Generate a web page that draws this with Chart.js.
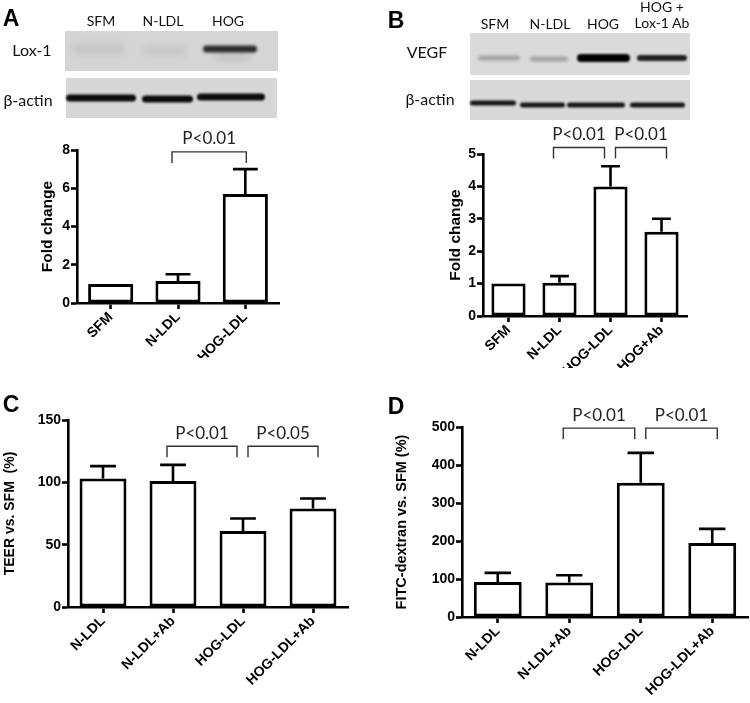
<!DOCTYPE html>
<html>
<head>
<meta charset="utf-8">
<script src="https://cdn.jsdelivr.net/npm/chart.js@4.4.1/dist/chart.umd.min.js"></script>
<style>
  body { margin: 0; background: #fff; }
  #wrap { position: relative; width: 750px; height: 703px; overflow: hidden; background: #fff; }
  canvas { position: absolute; }
  .t { position: absolute; transform: translate(-50%, -50%); white-space: nowrap;
       font-family: Lato, 'Liberation Sans', sans-serif; color: #111; line-height: 1; z-index: 3; }
  .big { font-family: 'Liberation Sans', Arial, sans-serif; font-weight: bold; font-size: 23px; color: #000; }
</style>
</head>
<body>
<div id="wrap">
  <canvas id="blots" width="750" height="703" style="left:0;top:0"></canvas>
  <canvas id="chartA" width="300" height="240" style="left:0;top:118px"></canvas>
  <canvas id="chartB" width="375" height="250" style="left:375px;top:118px"></canvas>
  <canvas id="chartC" width="375" height="325" style="left:0;top:378px"></canvas>
  <canvas id="chartD" width="375" height="325" style="left:375px;top:378px"></canvas>

  <div class="t big" style="left:11px;top:18px">A</div>
  <div class="t big" style="left:396px;top:20px">B</div>
  <div class="t big" style="left:11px;top:404px">C</div>
  <div class="t big" style="left:396px;top:406px">D</div>

  <div class="t" style="left:101px;top:21px;font-size:14px">SFM</div>
  <div class="t" style="left:163px;top:21px;font-size:14px">N-LDL</div>
  <div class="t" style="left:228px;top:21px;font-size:14px">HOG</div>
  <div class="t" style="left:32px;top:50px;font-size:16px">Lox-1</div>
  <div class="t" style="left:28px;top:100px;font-size:16px">β-actin</div>

  <div class="t" style="left:495px;top:24px;font-size:14px">SFM</div>
  <div class="t" style="left:550px;top:24px;font-size:14px">N-LDL</div>
  <div class="t" style="left:603px;top:24px;font-size:14px">HOG</div>
  <div class="t" style="left:662px;top:7px;font-size:14px">HOG +</div>
  <div class="t" style="left:662px;top:23px;font-size:14px">Lox-1 Ab</div>
  <div class="t" style="left:427px;top:52px;font-size:16px">VEGF</div>
  <div class="t" style="left:430px;top:99px;font-size:16px">β-actin</div>
</div>

<script>
// ---- data ----
const labelsA = ['SFM', 'N-LDL', 'HOG-LDL'];
const meanA = [1, 1.15, 5.7];
const errA = [0, 0.35, 1.3];
const ticksA = [0, 8, 2];

const labelsB = ['SFM', 'N-LDL', 'HOG-LDL', 'HOG+Ab'];
const meanB = [1, 1.03, 4.0, 2.6];
const errB = [0, 0.2, 0.62, 0.4];
const ticksB = [0, 5, 1];

const labelsC = ['N-LDL', 'N-LDL+Ab', 'HOG-LDL', 'HOG-LDL+Ab'];
const meanC = [103, 101, 61, 79];
const errC = [10, 13, 10, 8];
const ticksC = [0, 150, 50];

const labelsD = ['N-LDL', 'N-LDL+Ab', 'HOG-LDL', 'HOG-LDL+Ab'];
const meanD = [92, 91, 353, 195];
const errD = [24, 19, 79, 37];
const ticksD = [0, 500, 100];

// significance brackets: [from, to, level, text, side]
const bracketsA = [[1, 2, 7.9, 'P<0.01', 0]];
const bracketsB = [[1, 2, 5.2, 'P<0.01', -1], [2, 3, 5.2, 'P<0.01', 1]];
const bracketsC = [[1, 2, 129, 'P<0.01', -1], [2, 3, 129, 'P<0.05', 1]];
const bracketsD = [[1, 2, 497, 'P<0.01', -1], [2, 3, 497, 'P<0.01', 1]];

// ---- western blot pictures (decoration) ----
function band(ctx, x1, x2, y, h, alpha, blur) {
  ctx.save();
  ctx.filter = 'blur(' + blur + 'px)';
  ctx.fillStyle = 'rgba(0,0,0,' + alpha + ')';
  ctx.beginPath();
  ctx.roundRect(x1, y - h / 2, x2 - x1, h, h / 2);
  ctx.fill();
  ctx.restore();
}
function box(ctx, x, y, w, h, col) {
  ctx.fillStyle = col;
  ctx.fillRect(x, y, w, h);
}
const bctx = document.getElementById('blots').getContext('2d');
box(bctx, 65, 31, 213, 40, '#d5d5d5');
band(bctx, 72, 125, 49, 11, 0.07, 3);
band(bctx, 142, 187, 51, 10, 0.06, 3);
band(bctx, 203, 257, 49, 7, 0.8, 1.5);
band(bctx, 215, 250, 57, 8, 0.08, 3);
box(bctx, 66, 78, 211, 40, '#d7d7d7');
band(bctx, 66, 136, 98, 7, 0.95, 1);
band(bctx, 142, 193, 99, 7, 0.95, 1);
band(bctx, 197, 265, 97, 7, 0.95, 1);

box(bctx, 470, 33, 220, 42, '#dadada');
band(bctx, 478, 520, 58, 5, 0.25, 1.5);
band(bctx, 530, 568, 59, 5, 0.25, 1.5);
band(bctx, 577, 630, 58, 8, 1, 1);
band(bctx, 637, 687, 58, 6, 0.85, 1);
box(bctx, 470, 80, 220, 40, '#d9d9d9');
band(bctx, 470, 516, 103, 5, 0.9, 1);
band(bctx, 520, 565, 105, 5, 0.9, 1);
band(bctx, 567, 625, 105, 5, 0.9, 1);
band(bctx, 630, 685, 105, 5, 0.9, 1);

// ---- charts ----
const fam = "'Liberation Sans', Arial, sans-serif";

const extras = {
  id: 'extras',
  afterDatasetsDraw(chart, args, o) {
    const ctx = chart.ctx, y = chart.scales.y, x = chart.scales.x;
    const meta = chart.getDatasetMeta(0);
    ctx.save();
    ctx.strokeStyle = '#000';
    ctx.lineWidth = 2.6;
    o.errs.forEach((e, i) => {
      if (!e) return;
      const bar = meta.data[i];
      const top = y.getPixelForValue(o.means[i]);
      const ey = y.getPixelForValue(o.means[i] + e);
      const cw = bar.width * 0.55;
      ctx.beginPath();
      ctx.moveTo(bar.x, top);
      ctx.lineTo(bar.x, ey);
      ctx.moveTo(bar.x - cw / 2, ey);
      ctx.lineTo(bar.x + cw / 2, ey);
      ctx.stroke();
    });
    ctx.lineWidth = 1.4;
    ctx.strokeStyle = '#333';
    ctx.fillStyle = '#222';
    ctx.font = '17px Lato';
    ctx.textAlign = 'center';
    ctx.textBaseline = 'middle';
    o.brackets.forEach(b => {
      let x1 = x.getPixelForValue(b[0]), x2 = x.getPixelForValue(b[1]);
      if (b[4] < 0) { x1 -= 6; x2 -= 6; }
      else if (b[4] > 0) { x1 += 5; x2 += 5; }
      else { x1 -= 6; x2 += 1; }
      const by = y.getPixelForValue(b[2]);
      ctx.beginPath();
      ctx.moveTo(x1, by + 11);
      ctx.lineTo(x1, by);
      ctx.lineTo(x2, by);
      ctx.lineTo(x2, by + 11);
      ctx.stroke();
      ctx.fillText(b[3], (x1 + x2) / 2, by - 13);
    });
    ctx.restore();
  }
};

function makeChart(id, labels, means, errs, ticks, brackets, cfg) {
  const tickFont = { family: fam, weight: 'bold', size: 14 };
  new Chart(document.getElementById(id), {
    type: 'bar',
    data: {
      labels: labels,
      datasets: [{
        data: means,
        backgroundColor: '#fff',
        borderColor: '#000',
        borderWidth: 3,
        borderSkipped: false,
        categoryPercentage: 1,
        barPercentage: 0.67
      }]
    },
    options: {
      responsive: false,
      animation: false,
      layout: { padding: { left: 0, top: cfg.top, right: cfg.right, bottom: 0 } },
      plugins: {
        legend: { display: false },
        tooltip: { enabled: false },
        extras: { means: means, errs: errs, brackets: brackets }
      },
      scales: {
        x: {
          afterFit(s) { s.height = cfg.xH; },
          border: { color: '#000', width: 2.6 },
          grid: { offset: false, drawOnChartArea: false, drawTicks: true, tickLength: 6,
                  tickWidth: 2.6, color: '#000', tickColor: '#000' },
          ticks: { font: tickFont, color: '#000', minRotation: 45, maxRotation: 45,
                   autoSkip: false, padding: 0 }
        },
        y: {
          min: ticks[0], max: ticks[1],
          afterFit(s) { s.width = cfg.yW; },
          border: { color: '#000', width: 2.6 },
          grid: { drawOnChartArea: false, drawTicks: true, tickLength: 6,
                  tickWidth: 2.6, color: '#000', tickColor: '#000' },
          ticks: { stepSize: ticks[2], font: tickFont, color: '#000', padding: 1 },
          title: { display: true, text: cfg.title, color: '#000',
                   font: { family: fam, weight: 'bold', size: cfg.titleSize },
                   padding: { top: cfg.titlePad, bottom: 0 } }
        }
      }
    },
    plugins: [extras]
  });
}

makeChart('chartA', labelsA, meanA, errA, ticksA, bracketsA,
  { top: 32, right: 21, yW: 77, xH: 55, title: 'Fold change', titleSize: 15.5, titlePad: 38 });
makeChart('chartB', labelsB, meanB, errB, ticksB, bracketsB,
  { top: 36, right: 63, yW: 108, xH: 52, title: 'Fold change', titleSize: 15.5, titlePad: 71 });
makeChart('chartC', labelsC, meanC, errC, ticksC, bracketsC,
  { top: 42, right: 27, yW: 68, xH: 96, title: 'TEER vs. SFM  (%)', titleSize: 14, titlePad: 2 });
makeChart('chartD', labelsD, meanD, errD, ticksD, bracketsD,
  { top: 49, right: 2, yW: 87, xH: 86, title: 'FITC-dextran vs. SFM (%)', titleSize: 14.5, titlePad: 18 });
</script>
</body>
</html>
